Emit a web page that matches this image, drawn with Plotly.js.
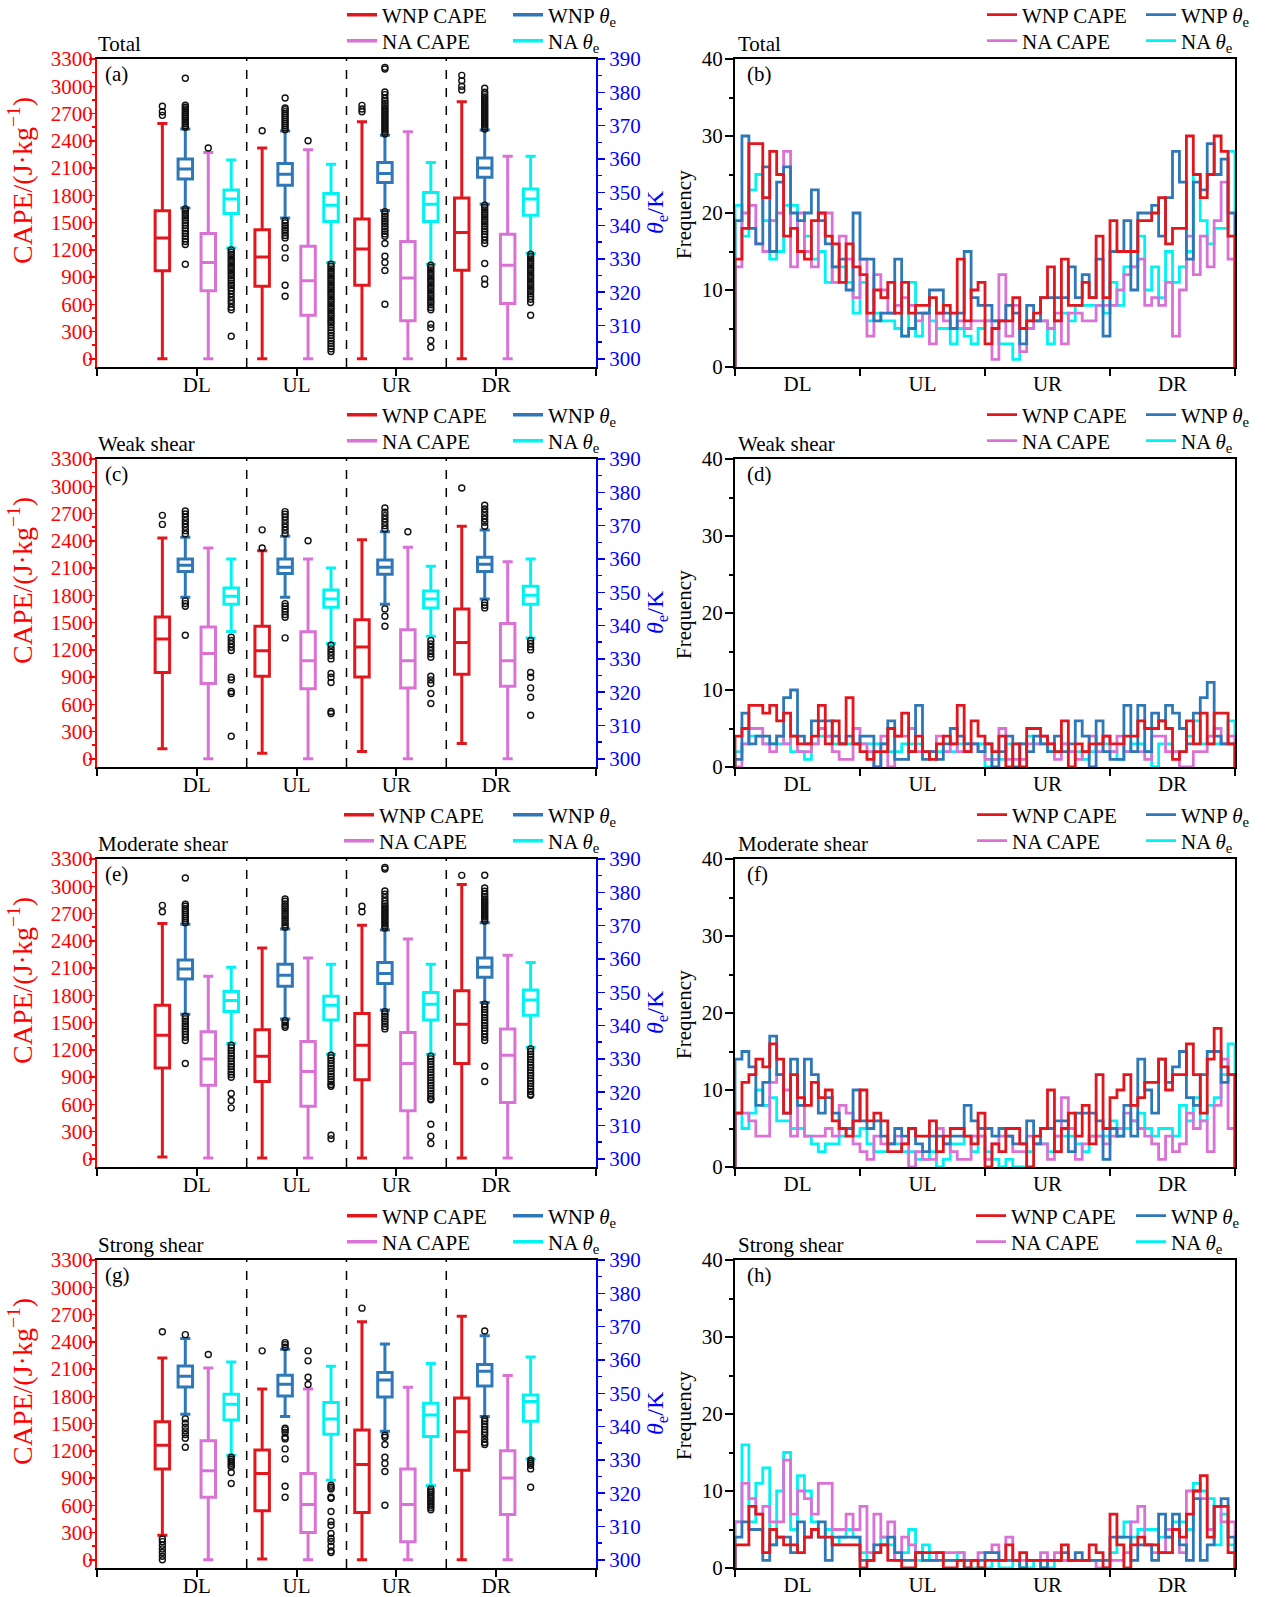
<!DOCTYPE html>
<html><head><meta charset="utf-8">
<script src="https://cdn.plot.ly/plotly-3.0.1.min.js"></script>
<style>body{margin:0;background:#fff}#chart{width:1267px;height:1597px}</style>
</head><body><div id="chart"></div>
<script>
// ---------------- DATA ----------------
const regions = ['DL', 'UL', 'UR', 'DR'];
const panelTitles = ['Total', 'Weak shear', 'Moderate shear', 'Strong shear'];
const boxLetters = ['(a)', '(c)', '(e)', '(g)'];
const histLetters = ['(b)', '(d)', '(f)', '(h)'];
const seriesNames = ['WNP CAPE', 'NA CAPE', 'WNP <i>θ</i><sub>e</sub>', 'NA <i>θ</i><sub>e</sub>'];

// Box statistics per region: [lower whisker, Q1, median, Q3, upper whisker]
// CAPE in J/kg, theta_e in K
const boxA_wnpCape = [[0,970,1330,1630,2590],[0,800,1120,1420,2320],[0,810,1210,1540,2610],[0,975,1390,1770,2830]];
const boxA_naCape = [[0,750,1060,1380,2270],[0,480,860,1240,2300],[0,420,890,1290,2500],[0,610,1030,1370,2230]];
const boxA_wnpTheta = [[345.3,354.0,357.0,360.0,369.0],[342.3,352.1,355.4,358.6,368.4],[344.5,352.9,355.6,358.9,367.1],[346.4,354.5,357.3,360.3,368.7]];
const boxA_naTheta = [[333.3,343.6,348.0,350.7,359.7],[328.9,341.2,346.1,349.6,358.4],[328.4,341.2,346.4,349.9,358.9],[331.6,343.1,348.0,351.0,360.8]];

const boxC_wnpCape = [[110,950,1320,1560,2430],[60,910,1190,1460,2290],[80,900,1230,1530,2410],[170,930,1280,1650,2560]];
const boxC_naCape = [[0,830,1160,1450,2320],[0,770,1080,1400,2200],[0,780,1080,1420,2330],[0,800,1080,1490,2170]];
const boxC_wnpTheta = [[348.5,356.2,358.1,360.0,366.5],[348.5,355.6,357.5,360.0,366.8],[346.4,355.4,357.5,359.7,368.2],[348.0,356.2,358.4,360.5,368.7]];
const boxC_naTheta = [[338.2,346.4,348.8,351.3,360.0],[334.6,345.5,348.0,350.7,357.3],[336.8,345.3,348.0,350.4,357.8],[336.3,346.4,349.1,351.8,360.0]];

const boxE_wnpCape = [[20,1000,1360,1690,2590],[10,850,1130,1420,2320],[10,870,1250,1600,2570],[10,1050,1480,1850,3020]];
const boxE_naCape = [[10,810,1100,1400,2010],[10,580,960,1290,2210],[10,530,1050,1390,2420],[10,620,1140,1430,2240]];
const boxE_wnpTheta = [[343.4,354.0,357.0,359.7,370.4],[342.0,351.8,355.1,358.4,369.0],[344.7,352.6,355.6,358.9,368.7],[346.9,354.5,357.5,360.3,370.9]];
const boxE_naTheta = [[334.6,344.2,347.5,350.2,357.5],[331.4,341.7,346.1,348.8,358.4],[331.4,341.7,346.4,349.9,358.4],[333.5,343.1,347.7,350.7,358.9]];

const boxG_wnpCape = [[270,1000,1260,1520,2220],[10,540,950,1210,1880],[0,520,1050,1430,2620],[0,985,1410,1780,2680]];
const boxG_naCape = [[0,690,980,1310,2110],[0,300,610,950,1880],[0,200,610,1000,1900],[0,500,900,1200,2030]];
const boxG_wnpTheta = [[343.7,351.9,355.1,358.2,366.4],[343.0,349.2,352.7,355.4,363.2],[338.6,348.9,354.0,356.2,364.8],[343.0,352.2,356.6,358.6,367.3]];
const boxG_naTheta = [[331.4,342.0,346.7,349.7,359.4],[323.9,337.7,342.3,347.2,358.1],[322.3,337.0,343.5,347.0,358.9],[330.3,341.6,347.5,349.5,360.9]];

// Outliers per region [DL, UL, UR, DR]
const outA_wnpCape = [[2680,2720,2780],[2510],[2720,2750,2790],[2960,3000,3060,3120]];
const outA_naCape = [[2320],[2400],[],[]];
const outA_wnpTheta = [
  [369.5,370,370.6,371.1,371.7,372.2,372.8,373.3,373.9,374.4,375,375.5,376.1,384.2,345,344.4,343.7,343,342.3,341.6,340.8,340,339.2,338.4,337.6,336.8,336,335.2,334.3,328.4],
  [368.8,369.4,370,370.6,371.2,371.8,372.4,373,373.6,374.2,374.8,375.3,378.3,341.5,340.8,340,339.3,338.6,337.8,337,336.3,333.3,330.3,322.1,318.8],
  [367.5,368.1,368.7,369.3,369.9,370.5,371.1,371.7,372.3,372.9,373.5,374.1,374.7,375.3,376,376.7,377.4,378.2,379.3,380.1,387,387.5,344.2,343.5,342.8,342,341.3,340.6,339.8,339,338.3,337.5,336.8,334.6,330.8,328.9,326.5,316.4],
  [369,369.6,370.2,370.8,371.4,372,372.6,373.2,373.8,374.4,375,375.6,376.2,376.8,377.4,378,378.6,379.3,380,381.2,346.1,345.4,344.7,344,343.3,342.6,341.9,341.2,340.5,339.8,339,338.2,337.4,336.6,335.6,334.6,328.6,324,322.4]
];
const outA_naTheta = [
  [332.7,332,331.3,330.6,329.9,329.2,328.5,327.8,327.1,326.4,325.7,325,324.3,323.5,322.7,322,321.3,320.5,319.5,318.5,317.5,316.6,315.5,314.7,306.8],
  [328.4,327.7,327,326.3,325.6,324.9,324.2,323.5,322.8,322.1,321.4,320.7,320,319.3,318.6,317.9,317.2,316.5,315.8,315.1,314.4,313.7,313,312.3,311.6,310.9,310.2,309.4,308.6,307.8,307,306.2,305.4,304.6,303.8,303,302.2],
  [328.1,327.4,326.7,326,325.3,324.6,323.9,323.2,322.5,321.8,321.1,320.4,319.7,319,318.3,317.6,316.9,316.2,315.4,314.7,310.4,309.3,305.5,303.5],
  [331.4,330.7,330,329.3,328.6,327.9,327.2,326.5,325.8,325.1,324.4,323.7,323,322.3,321.6,320.9,320.2,319.5,318.7,317.9,316.9,313.1]
];

const outC_wnpCape = [[2580,2680],[2320,2520],[],[2980]];
const outC_naCape = [[],[2400],[2500],[]];
const outC_wnpTheta = [
  [367.5,368.5,369.5,370.5,371.5,372.5,373.5,374.4,347.4,346.6,345.8,337.1],
  [367.6,368.6,369.6,370.6,371.6,372.6,373.4,374.2,346.6,345.8,345,344.2,343.3,342.5,336.3],
  [369,370,371,372,373,374,375.3,345,342.8,339.8],
  [369.8,371,372,373,374,375,376.1,346.9,346.1,345.3]
];
const outC_naTheta = [
  [336.5,335.5,334.5,333.5,332.5,324.5,323.7,320.2,319.6,306.8],
  [334.1,333,332,331,330,325.6,324.5,322.9,314.2,313.6],
  [335.5,334.5,333.5,332.5,331.5,330.5,324.8,323.7,322.6,319.6,316.6],
  [335.5,334.6,333.6,332.7,325.9,324.5,321.3,318.5,313.1]
];

const outE_wnpCape = [[2720,2790],[],[2720,2780],[3120]];
const outE_naCape = [[],[],[],[]];
const outE_wnpTheta = [
  [370.9,371.5,372.1,372.7,373.3,373.9,374.5,375.1,375.8,376.4,384.3,342.8,342,341.3,340.5,339.8,339,338.2,337.4,336.5,335.5,328.6],
  [369.5,370.2,370.9,371.6,372.3,373,373.7,374.4,375.1,375.8,376.5,377.3,378,341.5,340.8,340.1,339.5],
  [369.3,369.9,370.5,371.1,371.7,372.3,372.9,373.5,374.1,374.7,375.3,375.9,376.6,377.4,378.4,379.4,380.4,387,387.5,344.2,343.5,342.8,342,341.3,340.5,339.7,339],
  [371.4,372,372.6,373.2,373.8,374.4,375,375.6,376.2,376.8,377.4,378,378.7,379.4,380.3,381.3,385.1,346.4,345.6,344.8,344,343.2,342.4,341.6,340.8,340,339.2,338.4,337.5,336.5,335.5,327.8,323.2]
];
const outE_naTheta = [
  [334.1,333.3,332.5,331.7,330.9,330.1,329.3,328.5,327.7,326.9,326.1,325.3,324.5,319.6,317.5,315.3],
  [331.1,330.3,329.5,328.7,327.9,327.1,326.3,325.5,324.7,323.9,323.1,322.3,321.8,307.1,306],
  [330.8,330,329.2,328.4,327.6,326.8,326,325.2,324.4,323.6,322.8,322,321.2,320.4,319.6,318.8,318,317.7,310.4,306.8,304.6],
  [333,332.2,331.4,330.6,329.8,329,328.2,327.4,326.6,325.8,325,324.2,323.4,322.6,321.8,321,320.2,319.4,319.1]
];

const outG_wnpCape = [[2510,0,40,80,120,160,200,230],[2300],[2770],[]];
const outG_naCape = [[2260],[1930,2010,2190,2300],[],[]];
const outG_wnpTheta = [
  [367.6,342.3,341,339.8,338.7,337.6,336.5,333.8],
  [363.8,364.6,365.2,339.5,339,338.2,336.8,336.3,333.3,330.3,322.1,318.8],
  [337.4,336.8,334.6,330.8,328.9,326.5,316.4],
  [368.7,342.3,341.6,340.8,340,339.1,338.3,337.4,336.2,335.2,334.6]
];
const outG_naTheta = [
  [330.8,330.2,329.6,329,328.4,327.9,326.2,322.9],
  [322.4,321.8,321.3,318.8,318.5,314.5,311.5,310.4,307.9,306.5,305.5,304.1,302.7,302.2],
  [321.3,320.7,320.2,319.6,319,318.5,317.9,317.4,316.8,316.2,315.6,315],
  [330,329.5,328.9,328.4,327.3,321.8]
];

// Histogram frequencies, 72 azimuth bins (18 per quadrant DL, UL, UR, DR)
const histB_wnpCape = [14,18,29,29,22,28,25,17,18,15,14,19,20,17,16,11,16,13, 12,7,10,9,11,7,11,7,8,8,9,7,8,7,14,6,10,11, 3,5,6,6,9,5,6,7,9,13,6,14,8,8,11,9,17,9, 19,15,15,15,19,19,20,22,16,18,18,30,25,22,25,30,28,17];
const histB_naCape = [13,20,21,16,15,19,20,28,13,20,15,13,20,20,11,17,14,9, 14,4,12,10,7,8,9,8,6,7,3,7,6,5,6,5,6,6, 6,1,12,4,8,2,5,6,6,5,7,3,7,7,6,6,8,8, 8,10,12,13,14,8,9,8,11,4,10,17,12,17,13,19,24,14];
const histB_wnpTheta = [19,30,18,16,26,15,24,26,20,19,20,23,19,16,13,14,10,20, 14,14,6,7,7,14,4,5,7,7,10,10,7,5,7,15,9,8, 8,6,6,8,7,3,8,6,9,9,9,9,13,9,12,9,14,4, 15,15,19,10,20,20,21,17,22,28,24,14,24,23,29,25,27,20];
const histB_naTheta = [21,17,23,25,19,14,15,21,21,15,17,14,15,11,13,13,11,7, 11,6,7,6,6,5,4,11,4,7,6,5,5,3,5,4,3,5, 6,6,3,3,1,5,6,6,6,3,6,7,6,8,8,8,8,7, 11,8,13,13,17,10,13,9,15,11,13,15,25,19,16,18,18,28];

const histD_wnpCape = [4,5,8,8,7,8,6,7,4,3,3,4,8,3,6,3,9,3, 2,1,2,2,5,4,7,2,4,2,1,3,4,3,8,2,6,4, 3,2,4,0,3,0,5,5,4,3,2,6,0,3,2,3,3,4, 3,3,4,4,6,5,5,6,5,1,2,6,3,7,3,7,7,3];
const histD_naCape = [0,3,5,5,3,2,4,3,4,2,2,3,5,4,2,1,1,5, 3,2,0,4,0,4,4,5,2,2,2,4,2,3,2,2,3,2, 1,1,5,1,1,1,3,3,4,3,1,3,2,1,2,4,2,4, 2,4,2,2,2,1,4,4,2,2,0,0,2,2,4,5,3,4];
const histD_wnpTheta = [1,7,3,4,4,3,4,9,10,4,3,6,6,6,4,3,4,3, 4,4,0,3,6,1,1,2,8,1,2,1,3,5,4,3,3,2, 3,0,2,4,0,3,2,4,3,2,4,2,3,6,4,0,6,2, 1,1,8,2,8,2,7,6,8,7,5,3,7,9,11,4,3,3];
const histD_naTheta = [2,3,4,4,3,3,3,3,2,2,1,3,4,4,3,3,3,3, 3,3,3,3,2,2,3,3,3,2,2,2,2,2,3,3,3,3, 0,1,1,3,3,3,4,3,3,2,2,3,2,2,1,2,3,3, 2,1,2,3,3,2,0,3,3,2,2,4,6,3,3,3,3,6];

const histF_wnpCape = [7,11,12,14,13,16,14,7,12,9,8,11,9,10,6,5,4,6, 10,6,7,6,2,2,3,5,4,4,6,2,4,5,5,4,3,7, 0,3,2,5,5,3,0,4,5,10,2,5,7,4,8,3,12,5, 9,10,12,8,9,11,11,14,10,12,12,16,12,7,14,18,13,12];
const histF_naCape = [7,7,6,4,4,11,12,10,4,8,4,4,4,5,4,8,7,3, 2,1,4,3,3,4,3,0,2,1,1,5,3,2,1,1,4,4, 1,3,4,4,2,2,4,3,3,1,4,9,5,1,3,4,4,3, 4,5,7,6,5,4,3,1,4,2,3,7,5,6,2,8,14,5];
const histF_wnpTheta = [14,15,13,8,11,17,12,7,14,8,14,12,7,9,7,5,5,10, 6,5,6,4,3,5,4,5,3,2,4,4,3,4,4,8,6,5, 5,4,5,4,3,3,6,3,5,5,6,6,2,7,7,7,6,1, 5,4,8,4,14,10,7,14,11,13,15,9,8,12,15,15,11,12];
const histF_naTheta = [7,5,7,10,8,9,6,6,5,5,4,3,2,3,3,4,5,4, 5,3,2,2,3,3,2,2,1,1,2,0,1,3,3,4,2,4, 2,1,0,1,0,0,2,3,3,2,4,4,4,3,2,4,4,4, 6,4,5,6,7,5,4,5,5,4,8,6,9,6,8,9,12,16];

const histH_wnpCape = [3,3,8,7,2,5,4,3,3,2,4,5,4,4,3,3,3,3, 0,1,2,3,1,1,0,0,2,2,2,2,0,0,1,0,1,0, 1,1,1,3,1,2,1,1,1,1,1,3,1,1,1,3,2,0, 7,3,0,3,4,3,3,2,2,5,4,7,10,12,4,8,8,2];
const histH_naCape = [6,11,9,7,8,6,6,14,7,10,9,7,11,11,5,5,7,5, 8,2,7,4,6,1,4,3,2,1,1,2,2,2,2,1,1,2, 2,3,1,4,1,1,1,1,2,1,2,1,1,1,1,1,0,0, 1,1,2,6,8,3,2,2,5,5,2,10,10,9,5,8,6,6];
const histH_wnpTheta = [4,6,5,5,1,3,4,4,2,6,4,5,6,1,4,4,4,4, 1,1,3,3,4,2,1,1,2,1,1,1,1,1,1,1,1,1, 2,2,1,1,1,0,1,1,0,1,1,2,1,2,1,1,1,1, 4,4,4,1,3,3,1,7,4,7,3,1,9,1,3,8,9,4];
const histH_naTheta = [6,16,6,11,13,3,10,15,5,12,10,6,4,5,3,4,5,4, 2,1,2,4,3,1,2,5,1,3,1,2,1,1,2,0,0,0, 0,1,0,0,1,0,0,1,0,0,1,1,1,1,1,1,1,1, 2,4,6,4,5,5,5,4,4,6,6,5,11,10,9,3,7,3];

// ---------------- BUILD ----------------
const boxPanels = [
  [boxA_wnpCape, boxA_naCape, boxA_wnpTheta, boxA_naTheta],
  [boxC_wnpCape, boxC_naCape, boxC_wnpTheta, boxC_naTheta],
  [boxE_wnpCape, boxE_naCape, boxE_wnpTheta, boxE_naTheta],
  [boxG_wnpCape, boxG_naCape, boxG_wnpTheta, boxG_naTheta]
];
const outPanels = [
  [outA_wnpCape, outA_naCape, outA_wnpTheta, outA_naTheta],
  [outC_wnpCape, outC_naCape, outC_wnpTheta, outC_naTheta],
  [outE_wnpCape, outE_naCape, outE_wnpTheta, outE_naTheta],
  [outG_wnpCape, outG_naCape, outG_wnpTheta, outG_naTheta]
];
const histPanels = [
  [histB_wnpCape, histB_naCape, histB_wnpTheta, histB_naTheta],
  [histD_wnpCape, histD_naCape, histD_wnpTheta, histD_naTheta],
  [histF_wnpCape, histF_naCape, histF_wnpTheta, histF_naTheta],
  [histH_wnpCape, histH_naCape, histH_wnpTheta, histH_naTheta]
];

const W = 1267, H = 1597;
const FONT = '"Liberation Serif", "Times New Roman", serif';
const COLORS = ['#e2161d', '#da72d6', '#2f78b8', '#00f2f2']; // WNP CAPE, NA CAPE, WNP θe, NA θe
const OFFSETS = [-0.345, 0.115, -0.115, 0.345];
const RED = '#ff0000', BLUE = '#0000ff';
const rowTop = [59, 459, 859, 1260];
const plotH = 308;
const L0 = 97, L1 = 596, R0 = 735, R1 = 1235;
// legend text start positions (px) per row: [left col1, left col2, right col1, right col2]
const legText = [[382, 548, 1022, 1181], [382, 548, 1022, 1181], [379, 548, 1012, 1181], [382, 548, 1011, 1171]];
const binWidth = 5;

const fx = p => p / W;
const fy = p => 1 - p / H;
const aRef = (p, n) => n === 1 ? p : p + n;
const aKey = (p, n) => n === 1 ? p + 'axis' : p + 'axis' + n;
const lRef = n => n === 1 ? 'legend' : 'legend' + n;

const traces = [], shapes = [], annotations = [];
const layout = {
  width: W, height: H, margin: {l: 0, r: 0, t: 0, b: 0, autoexpand: false},
  paper_bgcolor: '#fff', plot_bgcolor: 'rgba(0,0,0,0)',
  font: {family: FONT, size: 21, color: '#000'},
  showlegend: true, boxmode: 'overlay'
};

function addLegend(id, textX, centerY) {
  layout[lRef(id)] = {
    x: fx(textX - 40), y: fy(centerY), xanchor: 'left', yanchor: 'middle', orientation: 'v',
    bgcolor: 'rgba(0,0,0,0)', borderwidth: 0, tracegroupgap: 0,
    font: {family: FONT, size: 21, color: '#000'}
  };
}

for (let r = 0; r < 4; r++) {
  const nxL = 2 * r + 1, nxR = 2 * r + 2, nyC = 3 * r + 1, nyT = 3 * r + 2, nyF = 3 * r + 3;
  const xL = aRef('x', nxL), xR = aRef('x', nxR);
  const yC = aRef('y', nyC), yT = aRef('y', nyT), yF = aRef('y', nyF);
  const dom = [fy(rowTop[r] + plotH), fy(rowTop[r])];
  const legRowY = [rowTop[r] - 44, rowTop[r] - 18];
  for (let p = 0; p < 2; p++) {
    for (let s = 0; s < 4; s++) {
      const col = s < 2 ? 0 : 1;          // CAPE series in column 1, θe in column 2
      const row = s % 2;                  // WNP first row, NA second
      addLegend(8 * r + 4 * p + s + 1, legText[r][2 * p + col], legRowY[row]);
    }
  }

  // ---- box panel ----
  for (let s = 0; s < 4; s++) {
    const b = boxPanels[r][s];
    const yax = s < 2 ? yC : yT;
    const xs = regions.map((_, i) => i + 1 + OFFSETS[s]);
    traces.push({
      type: 'box', orientation: 'v', x: xs,
      lowerfence: b.map(v => v[0]), q1: b.map(v => v[1]), median: b.map(v => v[2]),
      q3: b.map(v => v[3]), upperfence: b.map(v => v[4]),
      width: 0.145, whiskerwidth: 0.7, boxpoints: false,
      line: {color: COLORS[s], width: 3}, fillcolor: 'rgba(0,0,0,0)',
      xaxis: xL, yaxis: yax, showlegend: false, hoverinfo: 'skip'
    });
    const ox = [], oy = [];
    outPanels[r][s].forEach((list, i) => list.forEach(v => { ox.push(i + 1 + OFFSETS[s]); oy.push(v); }));
    traces.push({
      type: 'scatter', mode: 'markers', x: ox, y: oy,
      marker: {symbol: 'circle-open', size: 6, color: '#111', line: {width: 1.4, color: '#111'}},
      xaxis: xL, yaxis: yax, showlegend: false, hoverinfo: 'skip', cliponaxis: false
    });
    traces.push({
      type: 'scatter', mode: 'lines', x: [null], y: [null], name: seriesNames[s],
      line: {color: COLORS[s], width: 3.5}, xaxis: xL, yaxis: yC,
      legend: lRef(8 * r + s + 1), hoverinfo: 'skip'
    });
  }

  // ---- histogram panel ---- (draw order: NA θe, NA CAPE, WNP θe, WNP CAPE)
  [3, 1, 2, 0].forEach(s => {
    const v = histPanels[r][s];
    const hx = [0], hy = [0];
    v.forEach((c, k) => { hx.push(k * binWidth); hy.push(c); });
    hx.push(v.length * binWidth); hy.push(v[v.length - 1]);
    hx.push(v.length * binWidth); hy.push(0);
    traces.push({
      type: 'scatter', mode: 'lines', x: hx, y: hy, name: seriesNames[s],
      line: {color: COLORS[s], width: 2.8, shape: 'hv'},
      xaxis: xR, yaxis: yF, legend: lRef(8 * r + 4 + s + 1), hoverinfo: 'skip'
    });
  });

  // ---- axes ----
  layout[aKey('x', nxL)] = {
    domain: [fx(L0), fx(L1)], anchor: yC, range: [0, 5],
    tickmode: 'array', tickvals: [0, 1, 2, 3, 4, 5], ticktext: ['', ...regions, ''],
    ticks: 'outside', ticklen: 7, tickwidth: 2, tickcolor: '#000', ticklabelstandoff: -9,
    showline: true, linecolor: '#000', linewidth: 2, mirror: true,
    showgrid: false, zeroline: false, fixedrange: true,
    tickfont: {family: FONT, size: 21, color: '#000'}
  };
  layout[aKey('y', nyC)] = {
    domain: dom, anchor: xL, range: [-90, 3300],
    tickmode: 'linear', tick0: 0, dtick: 300,
    ticks: 'outside', ticklen: 6, tickwidth: 1.5, tickcolor: RED, ticklabelstandoff: -8,
    minor: {tick0: 0, dtick: 150, ticks: 'outside', ticklen: 3, tickwidth: 1.5, tickcolor: RED},
    showline: true, linecolor: RED, linewidth: 2,
    showgrid: false, zeroline: false, fixedrange: true,
    tickfont: {family: FONT, size: 21, color: RED}
  };
  layout[aKey('y', nyT)] = {
    overlaying: yC, side: 'right', anchor: xL, range: [297.55, 390],
    tickmode: 'linear', tick0: 300, dtick: 10,
    ticks: 'outside', ticklen: 7, tickwidth: 1.5, tickcolor: BLUE,
    minor: {tick0: 300, dtick: 5, ticks: 'outside', ticklen: 4, tickwidth: 1.5, tickcolor: BLUE},
    showline: true, linecolor: BLUE, linewidth: 2,
    showgrid: false, zeroline: false, fixedrange: true,
    tickfont: {family: FONT, size: 21, color: BLUE}
  };
  layout[aKey('x', nxR)] = {
    domain: [fx(R0), fx(R1)], anchor: yF, range: [0, 360],
    tickmode: 'array', tickvals: [45, 135, 225, 315], ticktext: regions, ticks: '', ticklabelstandoff: -3,
    minor: {tickmode: 'array', tickvals: [0, 90, 180, 270, 360], ticks: 'outside', ticklen: 7, tickwidth: 2, tickcolor: '#000'},
    showline: true, linecolor: '#000', linewidth: 2, mirror: true,
    showgrid: false, zeroline: false, fixedrange: true,
    tickfont: {family: FONT, size: 21, color: '#000'}
  };
  layout[aKey('y', nyF)] = {
    domain: dom, anchor: xR, range: [0, 40],
    tickmode: 'linear', tick0: 0, dtick: 10,
    ticks: 'outside', ticklen: 8, tickwidth: 2, tickcolor: '#000', ticklabelstandoff: -2,
    minor: {tick0: 0, dtick: 5, ticks: 'outside', ticklen: 4, tickwidth: 2, tickcolor: '#000'},
    showline: true, linecolor: '#000', linewidth: 2, mirror: true,
    showgrid: false, zeroline: false, fixedrange: true,
    tickfont: {family: FONT, size: 21, color: '#000'}
  };

  [1.5, 2.5, 3.5].forEach(xv => shapes.push({
    type: 'line', xref: xL, yref: yC + ' domain', x0: xv, x1: xv, y0: 0, y1: 1,
    line: {color: '#000', width: 1.5, dash: 'dash'}
  }));

  const ann = (x, y, text, opts) => annotations.push(Object.assign({
    xref: 'paper', yref: 'paper', x: fx(x), y: fy(y), text: text, showarrow: false,
    xanchor: 'left', yanchor: 'middle', font: {family: FONT, size: 21, color: '#000'}
  }, opts || {}));
  ann(L0 - 1, rowTop[r] - 15, panelTitles[r]);
  ann(R0 + 1, rowTop[r] - 15, panelTitles[r]);
  ann(L0 + 6, rowTop[r] + 15, boxLetters[r]);
  ann(R0 + 10, rowTop[r] + 15, histLetters[r]);
  ann(20, rowTop[r] + 122, 'CAPE/(J·kg<sup>−1</sup>)', {xanchor: 'center', textangle: -90, font: {family: FONT, size: 28, color: RED}});
  ann(657, rowTop[r] + 153, '<i>θ</i><sub>e</sub>/K', {xanchor: 'center', textangle: -90, font: {family: FONT, size: 24, color: BLUE}});
  ann(684, rowTop[r] + 156, 'Frequency', {xanchor: 'center', textangle: -90, font: {family: FONT, size: 21, color: '#000'}});
}

layout.shapes = shapes;
layout.annotations = annotations;

Plotly.newPlot('chart', traces, layout, {staticPlot: true, displayModeBar: false});
</script>
</body></html>
